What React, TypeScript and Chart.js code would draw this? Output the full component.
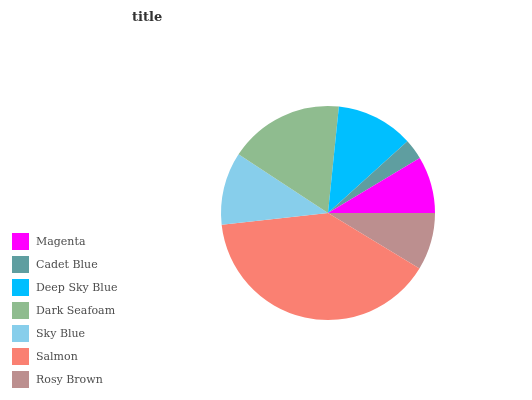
import React, { useEffect, useRef } from "react";
import { Chart, registerables } from "chart.js";

Chart.register(...registerables);

const categories = ["Magenta", "Cadet Blue", "Deep Sky Blue", "Dark Seafoam", "Sky Blue", "Salmon", "Rosy Brown"];
const values = [8.6, 3.1, 11.7, 17.4, 11.0, 39.6, 8.7];
const colors = ["#ff00ff", "#5f9ea0", "#00bfff", "#8fbc8f", "#87ceeb", "#fa8072", "#bc8f8f"];
const chartTitle = "title";

export default function App() {
  const ref = useRef<HTMLCanvasElement | null>(null);
  useEffect(() => {
    if (!ref.current) return;
    // Chart.js draws clockwise; reverse so slices run counter-clockwise from 3 o'clock
    const labels = [...categories].reverse();
    const data = [...values].reverse();
    const bg = [...colors].reverse();
    const chart = new Chart(ref.current, {
      type: "pie",
      data: {
        labels,
        datasets: [{ data, backgroundColor: bg, borderWidth: 0 }],
      },
      options: {
        animation: false,
        responsive: false,
        rotation: 90,
        layout: { padding: { left: 221, right: 97, top: 106, bottom: 80 } },
        plugins: { legend: { display: false }, title: { display: false }, tooltip: { enabled: false } },
      },
    });
    return () => chart.destroy();
  }, []);

  return (
    <div style={{ position: "fixed", left: 0, top: 0, width: 532, height: 400, background: "#fff" }}>
      <canvas ref={ref} width={532} height={400} style={{ position: "absolute", left: 0, top: 0 }} />
      <div
        style={{
          position: "absolute",
          left: 132,
          top: 9,
          font: "bold 13px 'DejaVu Serif'",
          color: "#333",
          lineHeight: "16px",
        }}
      >
        {chartTitle}
      </div>
      {categories.map((c, i) => (
        <div key={c} style={{ position: "absolute", left: 12, top: 233 + i * 23, height: 17, display: "flex", alignItems: "center" }}>
          <div style={{ width: 17, height: 17, background: colors[i] }} />
          <span style={{ marginLeft: 7, font: "11px 'DejaVu Serif'", color: "#4d4d4d", whiteSpace: "nowrap" }}>{c}</span>
        </div>
      ))}
    </div>
  );
}
